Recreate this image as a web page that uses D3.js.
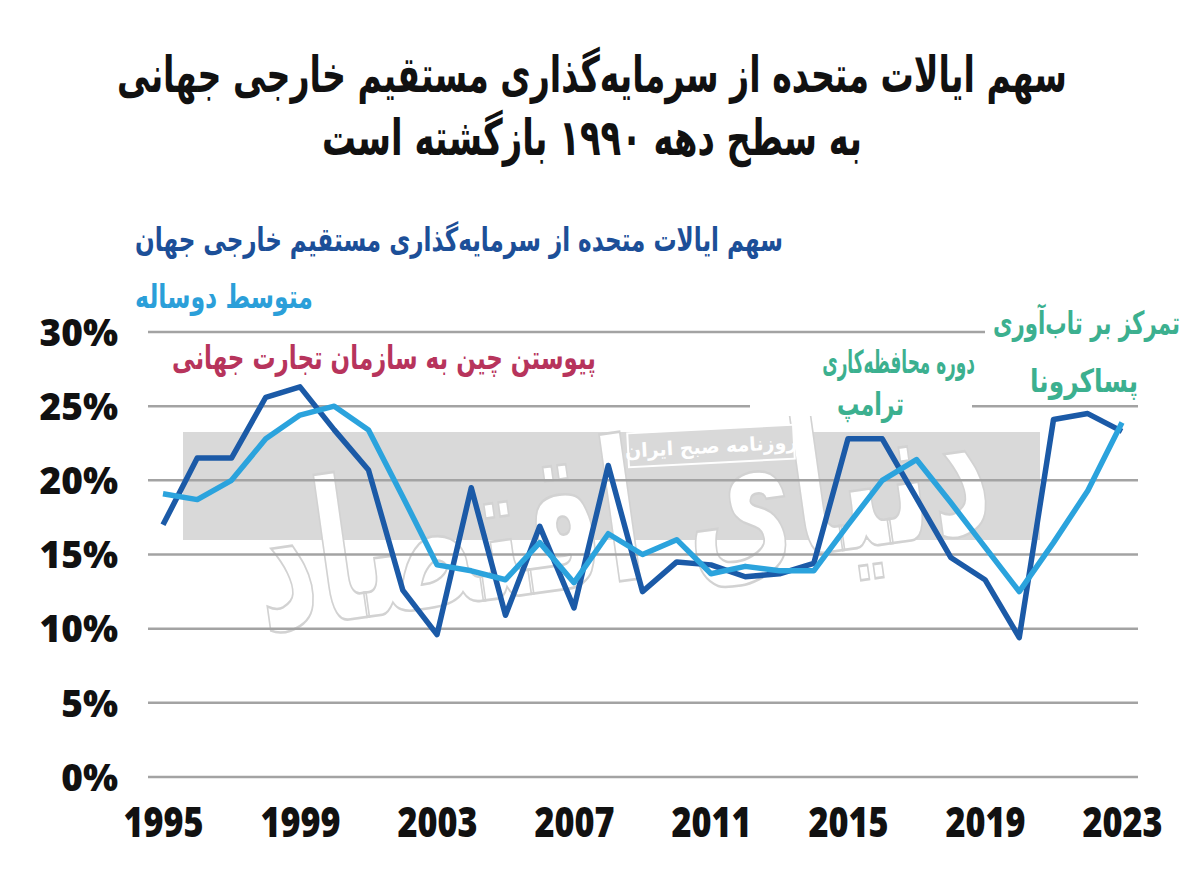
<!DOCTYPE html>
<html>
<head>
<meta http-equiv='Content-Type' content='text/html;charset=utf-8'/>
<title>US share of global FDI</title>
<script src='https://d3js.org/d3.v7.min.js'></script>
<style>
body {
	margin: 0;
	background: #ffffff;
}
svg text.fa {
	font-family: 'DejaVu Sans', sans-serif;
	font-weight: bold;
}
.y-axis text {
	font-family: 'Open Sans', 'DejaVu Sans', sans-serif;
	font-weight: 800;
	font-size: 37px;
	fill: #111111;
}
.x-axis text {
	font-family: 'Open Sans', 'Roboto', sans-serif;
	font-weight: 800;
	font-size: 42px;
	fill: #111111;
}
</style>
</head>
<body>
<script>
'use strict'

// chart values
const years = d3.range(1995, 2024)
const usShare = [17.0, 21.5, 21.5, 25.6, 26.3, 23.4, 20.7, 12.6, 9.6, 19.5,
	10.9, 16.9, 11.4, 21.0, 12.5, 14.5, 14.3, 13.5, 13.7, 14.4,
	22.8, 22.8, 18.8, 14.8, 13.3, 9.4, 24.1, 24.5, 23.3]
const twoYearAvg = [19.1, 18.7, 20.0, 22.8, 24.4, 25.0, 23.4, 18.9, 14.3, 13.9,
	13.3, 15.8, 13.1, 16.4, 15.0, 16.0, 13.7, 14.2, 13.9, 13.9,
	17.0, 20.0, 21.4, 18.5, 15.5, 12.5, 15.8, 19.3, 23.9]
const yTicks = [0, 5, 10, 15, 20, 25, 30]
const xTicks = [1995, 1999, 2003, 2007, 2011, 2015, 2019, 2023]

const titleLines = ['سهم ایالات متحده از سرمایه‌گذاری مستقیم خارجی جهانی', 'به سطح دهه ۱۹۹۰ بازگشته است']
const legendShare = 'سهم ایالات متحده از سرمایه‌گذاری مستقیم خارجی جهان'
const legendAvg = 'متوسط دوساله'
const noteChina = 'پیوستن چین به سازمان تجارت جهانی'
const noteTrump = ['دوره محافظه‌کاری', 'ترامپ']
const notePost = ['تمرکز بر تاب‌آوری', 'پساکرونا']

const width = 1200
const height = 880

const x = d3.scaleLinear().domain([1995, 2023]).range([163, 1122])
const y = d3.scaleLinear().domain([0, 30]).range([777, 332])

const svg = d3.select('body').append('svg')
	.attr('width', width)
	.attr('height', height)

svg.append('rect')
	.attr('width', width)
	.attr('height', height)
	.attr('fill', '#ffffff')

/**
 * label
 * Persian text at a given size, squeezed sideways to span width w.
 */
function label(txt, xa, yb, fs, colour, w, anchor)
{
	const g = svg.append('g').attr('transform', 'translate(' + xa + ',' + yb + ')')
	const t = g.append('text')
		.attr('class', 'fa')
		.attr('font-size', fs)
		.attr('fill', colour)
		.attr('text-anchor', anchor || 'end')
		.text(txt)
	const len = t.node().getComputedTextLength()
	if (len > 0)
		t.attr('transform', 'scale(' + (w / len).toFixed(3) + ',1)')
	return t
}

// title
label(titleLines[0], 592, 92, 50, '#111111', 950, 'middle')
label(titleLines[1], 592, 155, 50, '#111111', 540, 'middle')

// watermark band
svg.append('rect')
	.attr('x', 183)
	.attr('y', 432)
	.attr('width', 857)
	.attr('height', 108)
	.attr('fill', '#d9d9d9')

const wm = svg.append('g').attr('transform', 'translate(630,580) rotate(-8)')
const wmText = wm.append('text')
	.attr('class', 'fa')
	.attr('text-anchor', 'middle')
	.attr('font-size', 150)
	.attr('fill', '#ffffff')
	.attr('stroke', '#d2d2d2')
	.attr('stroke-width', 2)
	.text('دنیای اقتصاد')
const wmLen = wmText.node().getComputedTextLength()
wmText.attr('transform', 'scale(' + (740 / wmLen).toFixed(3) + ',1.3)')

// gridlines
svg.append('g')
	.selectAll('line')
	.data(yTicks)
	.join('line')
	.attr('x1', 148)
	.attr('x2', 1138)
	.attr('y1', d => y(d))
	.attr('y2', d => y(d))
	.attr('stroke', '#a3a3a3')
	.attr('stroke-width', 2.5)

// newspaper tag
const tag = svg.append('g').attr('transform', 'translate(711,446) rotate(-3)')
tag.append('rect')
	.attr('x', -83)
	.attr('y', -17)
	.attr('width', 166)
	.attr('height', 34)
	.attr('fill', '#d9d9d9')
	.attr('stroke', '#ffffff')
	.attr('stroke-width', 2)
tag.append('text')
	.attr('class', 'fa')
	.attr('text-anchor', 'middle')
	.attr('y', 7)
	.attr('font-size', 19)
	.attr('font-weight', 'normal')
	.attr('fill', '#ffffff')
	.text('روزنامه صبح ایران')

// axes
const yAxis = svg.append('g')
	.attr('class', 'y-axis')
	.attr('transform', 'translate(148,0)')
	.call(d3.axisLeft(y).tickValues(yTicks).tickSize(0).tickPadding(30).tickFormat(d => d + '%'))
yAxis.select('.domain').remove()
yAxis.selectAll('text').attr('dy', '0.36em')

const xAxis = svg.append('g')
	.attr('class', 'x-axis')
	.attr('transform', 'translate(0,805)')
	.call(d3.axisBottom(x).tickValues(xTicks).tickSize(0).tickPadding(0).tickFormat(d3.format('d')))
xAxis.select('.domain').remove()
xAxis.selectAll('text')
	.attr('dy', '0.75em')
	.each(function () {
		const len = this.getComputedTextLength()
		d3.select(this).attr('transform', 'scale(' + (80 / len).toFixed(3) + ',1)')
	})

// annotation masks to break gridlines behind the notes
svg.append('rect').attr('x', 985).attr('y', 320).attr('width', 215).attr('height', 26).attr('fill', '#ffffff')
svg.append('rect').attr('x', 750).attr('y', 398).attr('width', 222).attr('height', 18).attr('fill', '#ffffff')

// legend and notes
label(legendShare, 783, 251, 33, '#1c4f98', 648)
label(legendAvg, 313, 308, 33, '#2b9fd9', 178)
label(noteChina, 596, 369, 33, '#b7345c', 424)
label(noteTrump[0], 975, 373, 32, '#3cb08f', 153)
label(noteTrump[1], 904, 415, 32, '#3cb08f', 67)
label(notePost[0], 1180, 334, 32, '#3cb08f', 187)
label(notePost[1], 1138, 392, 32, '#3cb08f', 108)

// series
const line = d3.line()
	.x((d, i) => x(years[i]))
	.y(d => y(d))

svg.append('path')
	.attr('d', line(usShare))
	.attr('fill', 'none')
	.attr('stroke', '#1b5aa7')
	.attr('stroke-width', 5.5)
	.attr('stroke-linejoin', 'round')

svg.append('path')
	.attr('d', line(twoYearAvg))
	.attr('fill', 'none')
	.attr('stroke', '#2ba3dd')
	.attr('stroke-width', 5.5)
	.attr('stroke-linejoin', 'round')
</script>
</body>
</html>
